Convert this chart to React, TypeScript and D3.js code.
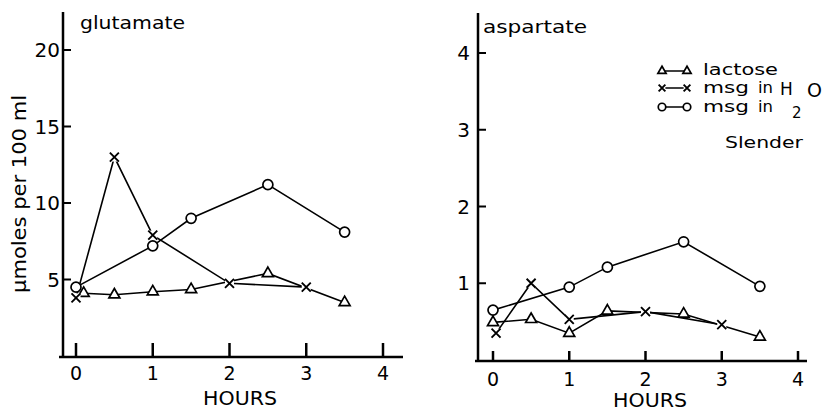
import React from 'react';
import * as d3 from 'd3';

// ---- data ----
const xTicks = [0, 1, 2, 3, 4];
const gluYTicks = [5, 10, 15, 20];
const aspYTicks = [1, 2, 3, 4];

const gluLactoseHours = [0.1, 0.5, 1, 1.5, 2.5, 3.5];
const gluLactose = [4.1, 4.0, 4.2, 4.35, 5.4, 3.5];
const gluH2OHours = [0, 0.5, 1, 2, 3];
const gluH2O = [3.8, 13.0, 7.9, 4.75, 4.5];
const gluSlenderHours = [0, 1, 1.5, 2.5, 3.5];
const gluSlender = [4.5, 7.2, 9.0, 11.2, 8.1];

const aspLactoseHours = [0, 0.5, 1, 1.5, 2.5, 3.5];
const aspLactose = [0.49, 0.53, 0.35, 0.64, 0.6, 0.3];
const aspH2OHours = [0.04, 0.5, 1, 2, 3];
const aspH2O = [0.35, 1.0, 0.53, 0.63, 0.46];
const aspSlenderHours = [0, 1, 1.5, 2.5, 3.5];
const aspSlender = [0.65, 0.95, 1.21, 1.54, 0.96];

const FONT = "'DejaVu Sans', sans-serif";

type Series = { hours: number[]; values: number[]; marker: 'tri' | 'x' | 'o' };

function Marker({ kind, x, y, s = 1 }: { kind: string; x: number; y: number; s?: number }) {
  if (kind === 'o') return <circle cx={x} cy={y} r={5 * s} fill="#fff" stroke="#000" strokeWidth={1.7} />;
  if (kind === 'tri') {
    const p = d3.symbol(d3.symbolTriangle, 52 * s * s)();
    return <path d={p || ''} transform={`translate(${x},${y})`} fill="#fff" stroke="#000" strokeWidth={1.7} />;
  }
  const r = 4.5 * s;
  return (
    <g>
      <rect x={x - r} y={y - r} width={2 * r} height={2 * r} fill="#fff" />
      <path d={`M${x - r},${y - r}L${x + r},${y + r}M${x - r},${y + r}L${x + r},${y - r}`} stroke="#000" strokeWidth={1.9} />
    </g>
  );
}

function Panel(props: {
  x0: number; x4: number; yTop: number; yZero: number; yMax: number;
  axisY: number; axisX: number; axisTop: number; axisLeft: number; axisRight: number;
  yTicks: number[]; series: Series[]; title: string; titleX: number; titleY: number; titleLen: number;
  tickLen: number; xLabelY: number; hoursX: number; hoursY: number; yLabelDx: number;
}) {
  const xs = d3.scaleLinear().domain([0, 4]).range([props.x0, props.x4]);
  const ys = d3.scaleLinear().domain([0, props.yMax]).range([props.yZero, props.yTop]);
  const line = d3.line<[number, number]>().x(d => xs(d[0])).y(d => ys(d[1]));
  return (
    <g>
      {props.series.map((s, i) => (
        <path key={i} d={line(s.hours.map((h, j) => [h, s.values[j]]) as [number, number][]) || ''} fill="none" stroke="#000" strokeWidth={1.6} />
      ))}
      {props.series.map((s, i) => s.hours.map((h, j) => (
        <Marker key={`${i}-${j}`} kind={s.marker} x={xs(h)} y={ys(s.values[j])} />
      )))}
      <line x1={props.axisX} x2={props.axisX} y1={props.axisTop} y2={props.axisY} stroke="#000" strokeWidth={2.5} />
      <line x1={props.axisLeft} x2={props.axisRight} y1={props.axisY} y2={props.axisY} stroke="#000" strokeWidth={2.5} />
      {xTicks.map(t => (
        <g key={t}>
          <line x1={xs(t)} x2={xs(t)} y1={props.axisY} y2={props.axisY - props.tickLen} stroke="#000" strokeWidth={2.5} />
          <text x={xs(t)} y={props.xLabelY} textAnchor="middle" fontSize={19} fontFamily={FONT}>{t}</text>
        </g>
      ))}
      {props.yTicks.map(t => (
        <g key={t}>
          <line x1={props.axisX} x2={props.axisX + 8} y1={ys(t)} y2={ys(t)} stroke="#000" strokeWidth={2} />
          <text x={props.axisX + props.yLabelDx} y={ys(t)} dy="0.36em" textAnchor="end" fontSize={20} fontFamily={FONT}>{t}</text>
        </g>
      ))}
      <text x={props.titleX} y={props.titleY} fontSize={17} fontFamily={FONT} textLength={props.titleLen} lengthAdjust="spacingAndGlyphs">{props.title}</text>
      <text x={props.hoursX} y={props.hoursY} textAnchor="middle" fontSize={19} fontFamily={FONT} textLength={74} lengthAdjust="spacingAndGlyphs">HOURS</text>
    </g>
  );
}

export default function App() {
  const legendRows = [
    { kind: 'tri', y: 71 },
    { kind: 'x', y: 88 },
    { kind: 'o', y: 107 },
  ];
  const LF = 15;
  return (
    <svg width={828} height={411} style={{ position: 'absolute', left: 0, top: 0, background: '#fff' }}>
      <rect width={828} height={411} fill="#fff" />
      <Panel
        x0={76} x4={383} yTop={50} yZero={356} yMax={20}
        axisY={357} axisX={63} axisTop={12} axisLeft={59} axisRight={403}
        yTicks={gluYTicks}
        series={[
          { hours: gluLactoseHours, values: gluLactose, marker: 'tri' },
          { hours: gluH2OHours, values: gluH2O, marker: 'x' },
          { hours: gluSlenderHours, values: gluSlender, marker: 'o' },
        ]}
        title="glutamate" titleX={80} titleY={29} titleLen={105}
        tickLen={14} xLabelY={380} hoursX={240} hoursY={405} yLabelDx={-3}
      />
      <Panel
        x0={493} x4={798} yTop={53} yZero={360} yMax={4}
        axisY={361} axisX={478} axisTop={13} axisLeft={475} axisRight={807}
        yTicks={aspYTicks}
        series={[
          { hours: aspLactoseHours, values: aspLactose, marker: 'tri' },
          { hours: aspH2OHours, values: aspH2O, marker: 'x' },
          { hours: aspSlenderHours, values: aspSlender, marker: 'o' },
        ]}
        title="aspartate" titleX={483} titleY={33} titleLen={104}
        tickLen={10} xLabelY={386} hoursX={650} hoursY={407} yLabelDx={-8}
      />
      <text transform="translate(26,194) rotate(-90)" textAnchor="middle" fontSize={20} fontFamily={FONT} textLength={198} lengthAdjust="spacingAndGlyphs">µmoles per 100 ml</text>
      {/* legend */}
      {legendRows.map((r, i) => (
        <g key={i}>
          <line x1={662} x2={686} y1={r.y} y2={r.y} stroke="#000" strokeWidth={1.5} />
          <Marker kind={r.kind} x={662} y={r.y} s={0.75} />
          <Marker kind={r.kind} x={687} y={r.y} s={0.75} />
        </g>
      ))}
      <text x={703} y={75} fontSize={LF} fontFamily={FONT} textLength={75} lengthAdjust="spacingAndGlyphs">lactose</text>
      <text x={703} y={93} fontSize={LF} fontFamily={FONT} textLength={46} lengthAdjust="spacingAndGlyphs">msg</text>
      <text x={758} y={93} fontSize={LF} fontFamily={FONT} textLength={15} lengthAdjust="spacingAndGlyphs">in</text>
      <text x={780} y={95} fontSize={17} fontFamily={FONT}>H</text>
      <text x={792} y={118} fontSize={15} fontFamily={FONT}>2</text>
      <text x={807} y={97} fontSize={19} fontFamily={FONT}>O</text>
      <text x={703} y={112} fontSize={LF} fontFamily={FONT} textLength={46} lengthAdjust="spacingAndGlyphs">msg</text>
      <text x={758} y={112} fontSize={LF} fontFamily={FONT} textLength={15} lengthAdjust="spacingAndGlyphs">in</text>
      <text x={725} y={148} fontSize={LF + 1} fontFamily={FONT} textLength={78} lengthAdjust="spacingAndGlyphs">Slender</text>
    </svg>
  );
}
